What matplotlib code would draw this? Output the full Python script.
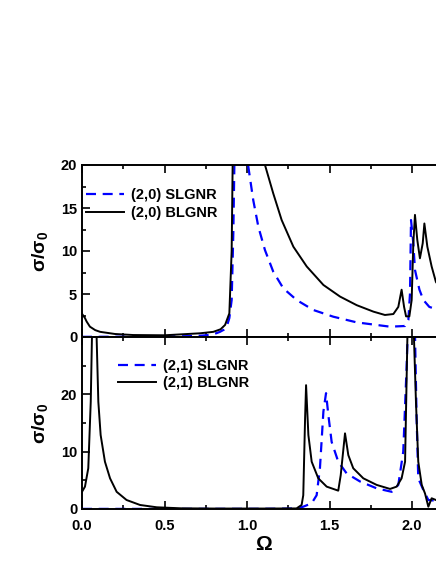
import matplotlib
matplotlib.use("Agg")
import matplotlib.pyplot as plt
from matplotlib.ticker import MultipleLocator

plt.rcParams["font.family"] = ["Liberation Sans", "DejaVu Sans"]
plt.rcParams["font.weight"] = "bold"
plt.rcParams["mathtext.fontset"] = "custom"
plt.rcParams["mathtext.rm"] = "Liberation Sans:bold"
plt.rcParams["mathtext.it"] = "Liberation Sans:bold"

# (2,0) panel
omega_20_sl = [0, 0.2, 0.4, 0.6, 0.7, 0.78, 0.816, 0.836, 0.86, 0.877, 0.893,
               0.907, 0.917, 0.925, 0.96, 1.0, 1.008, 1.038, 1.069, 1.109,
               1.159, 1.220, 1.301, 1.402, 1.523, 1.665, 1.806, 1.867, 1.958,
               1.978, 1.988, 1.994, 2.008, 2.018, 2.045, 2.069, 2.105, 2.2]
sigma_20_sl = [0.02, 0.03, 0.05, 0.08, 0.12, 0.25, 0.45, 0.6, 0.85, 1.2, 2.2,
               4.3, 12, 22, 40, 30, 19.8, 15.9, 12.8, 10.1,
               7.6, 5.66, 4.3, 3.14, 2.36, 1.7, 1.35, 1.2, 1.28,
               2.0, 5.1, 13.6, 10.9, 7.8, 5.5, 4.3, 3.5, 2.9]

omega_20_bl = [0, 0.018, 0.028, 0.048, 0.08, 0.11, 0.2, 0.31, 0.5, 0.715,
               0.796, 0.84, 0.867, 0.893, 0.907, 0.913, 0.92, 1.0, 1.08, 1.109,
               1.159, 1.210, 1.281, 1.362, 1.463, 1.564, 1.665, 1.766, 1.836,
               1.887, 1.917, 1.937, 1.952, 1.964, 1.984, 1.998, 2.008, 2.018,
               2.032, 2.048, 2.065, 2.075, 2.093, 2.119, 2.145, 2.2]
sigma_20_bl = [2.7, 2.2, 1.8, 1.2, 0.8, 0.6, 0.35, 0.23, 0.2, 0.43,
               0.6, 0.9, 1.4, 2.75, 10, 20, 35, 45, 35, 20,
               16.7, 13.6, 10.5, 8.2, 6.05, 4.7, 3.7, 2.95, 2.56,
               2.67, 3.5, 5.5, 3.5, 2.4, 2.4, 4.3, 10.9, 14.2,
               11.3, 9.15, 10.9, 13.2, 10.5, 8.2, 6.4, 5.0]

# (2,1) panel
omega_21_sl = [0, 0.5, 1.0, 1.2, 1.30, 1.341, 1.392, 1.422, 1.442, 1.463,
               1.479, 1.493, 1.513, 1.553, 1.604, 1.685, 1.786, 1.877, 1.917,
               1.947, 1.967, 1.985, 1.995, 2.015, 2.028, 2.038, 2.069, 2.099,
               2.2]
sigma_21_sl = [0.02, 0.02, 0.03, 0.05, 0.1, 0.4, 1.0, 2.4, 7.1, 17,
               20.2, 16.4, 11.7, 8.25, 6.2, 4.8, 3.6, 3.0, 4.2,
               10, 24.5, 40, 45, 35, 15.8, 5.35, 3.3, 1.57,
               1.3]

omega_21_bl = [0, 0.018, 0.038, 0.053, 0.06, 0.075, 0.089, 0.099, 0.113,
               0.139, 0.17, 0.21, 0.27, 0.352, 0.453, 0.6, 0.8, 1.1, 1.3,
               1.331, 1.341, 1.352, 1.358, 1.372, 1.392, 1.432, 1.483, 1.553,
               1.568, 1.594, 1.614, 1.644, 1.705, 1.786, 1.867, 1.907, 1.937,
               1.958, 1.972, 1.99, 2.012, 2.024, 2.038, 2.059, 2.079, 2.099,
               2.119, 2.145, 2.2]
sigma_21_bl = [3.0, 3.9, 7.1, 18.7, 29.5, 45, 29.5, 18.7, 12.9,
               8.25, 5.35, 3.0, 1.57, 0.7, 0.3, 0.12, 0.08, 0.08, 0.1,
               0.7, 2.4, 15.8, 21.6, 12.9, 8.25, 5.35, 3.9, 3.2,
               5.9, 13.2, 9.4, 7.1, 5.35, 4.2, 3.5, 3.9, 5.35,
               8.25, 29.8, 45, 29.8, 18.7, 8.25, 4.2, 2.7, 0.4,
               1.87, 1.57, 1.4]

W, H = 436, 564
fig = plt.figure(figsize=(W / 100, H / 100), dpi=100)

left = 82 / W
width = 165 * 2.2 / W
ax_top = fig.add_axes([left, 1 - 337 / H, width, 172 / H])
ax_bot = fig.add_axes([left, 1 - 509 / H, width, 172 / H])

dash = (0, (4.5, 3))
ax_top.plot(omega_20_sl, sigma_20_sl, color="#0000ff", lw=1.6, ls=dash,
            label="(2,0) SLGNR")
ax_top.plot(omega_20_bl, sigma_20_bl, color="black", lw=1.4,
            label="(2,0) BLGNR")
ax_bot.plot(omega_21_sl, sigma_21_sl, color="#0000ff", lw=1.6, ls=dash,
            label="(2,1) SLGNR")
ax_bot.plot(omega_21_bl, sigma_21_bl, color="black", lw=1.4,
            label="(2,1) BLGNR")

ax_top.set_ylim(0, 20)
ax_bot.set_ylim(0, 30)
ax_top.yaxis.set_major_locator(MultipleLocator(5))
ax_top.yaxis.set_minor_locator(MultipleLocator(2.5))
ax_bot.yaxis.set_major_locator(MultipleLocator(10))
ax_bot.yaxis.set_minor_locator(MultipleLocator(5))
ax_bot.set_yticks([0, 10, 20])

leg_kw = dict(loc="upper left", frameon=False, fontsize=10.5,
              handlelength=2.6, handletextpad=0.5, labelspacing=0.25)

for ax in (ax_top, ax_bot):
    ax.set_xlim(0, 2.2)
    ax.xaxis.set_major_locator(MultipleLocator(0.5))
    ax.xaxis.set_minor_locator(MultipleLocator(0.25))
    ax.tick_params(which="both", direction="in", top=True, right=True,
                   width=1.2, labelsize=10.5)
    ax.tick_params(which="major", length=6)
    ax.tick_params(which="minor", length=3)
    ax.tick_params(axis="x", pad=7)
    for sp in ax.spines.values():
        sp.set_linewidth(1.4)
    ax.set_ylabel(r"$\sigma/\sigma_0$", fontsize=14, labelpad=8)

ax_top.tick_params(labelbottom=False)
ax_top.legend(bbox_to_anchor=(-0.025, 0.94), **leg_kw)
ax_bot.legend(bbox_to_anchor=(0.063, 0.95), **leg_kw)
ax_bot.set_xlabel(r"$\Omega$", fontsize=15, labelpad=2)

fig.savefig("out.png", dpi=100)
